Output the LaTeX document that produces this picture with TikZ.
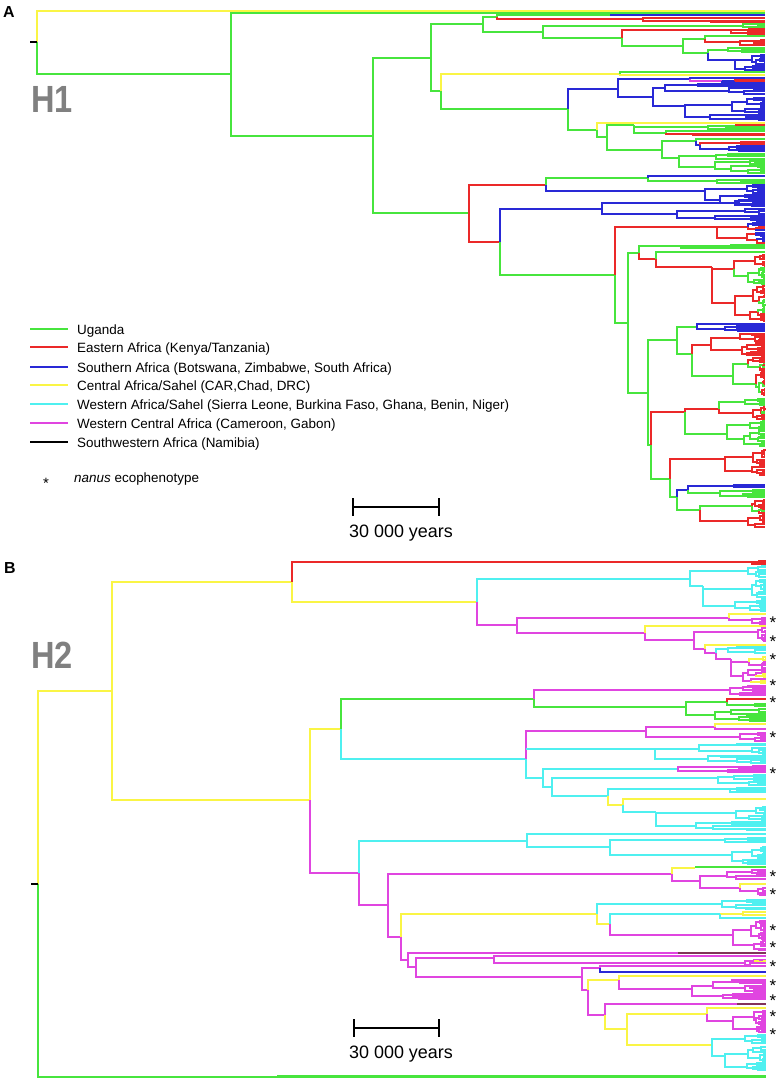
\documentclass[tikz,border=0pt]{standalone}
\usepackage{fontspec}
\setmainfont{Liberation Sans}
\definecolor{ug}{rgb}{0.28,0.90,0.24}
\definecolor{ea}{rgb}{0.92,0.16,0.16}
\definecolor{sa}{rgb}{0.16,0.16,0.84}
\definecolor{ca}{rgb}{0.98,0.96,0.27}
\definecolor{wa}{rgb}{0.31,0.94,0.94}
\definecolor{wc}{rgb}{0.88,0.27,0.88}
\definecolor{dk}{rgb}{0.51,0.20,0.35}
\definecolor{hg}{rgb}{0.50,0.50,0.50}
\definecolor{kk}{rgb}{0,0,0}
% binary node: x, stem y, child1 y, colour1, child1 x, child2 y, colour2, child2 x
\newcommand\ndd[8]{%
 \draw[line width=1.7bp,color=#4] (#1,#2) -- (#1,#3) -- (#5,#3);%
 \draw[line width=1.7bp,color=#7] (#1,#2) -- (#1,#6) -- (#8,#6);}
\newcommand\seg[4]{\draw[line width=1.7bp,color=#1] (#2,#4) -- (#3,#4);}
% random clade: x, ytop, ybot, colour, alt colour, prob, stem y
\newcommand\rclade[7]{%
\begingroup
\pgfmathsetmacro\rcH{#3-#2}%
\ifdim\rcH pt<2.8pt
  \draw[line width=1.7bp,color=#4] (#1,#7) -- (\xend,#7);%
\else
  \pgfmathsetmacro\rcM{#2+\rcH*(0.3+0.4*rnd)}%
  \pgfmathsetmacro\rcCa{round((#2+\rcM)/2)}%
  \pgfmathsetmacro\rcCb{round((\rcM+#3)/2)}%
  \pgfmathsetmacro\rcXa{round(#1+(\xend-#1)*(0.2+0.6*rnd))}%
  \pgfmathsetmacro\rcXb{round(#1+(\xend-#1)*(0.2+0.6*rnd))}%
  \pgfmathsetmacro\rcRa{rnd}%
  \pgfmathsetmacro\rcRb{rnd}%
  \ifdim\rcRa pt<#6pt \edef\rcCola{#5}\def\rcPa{0}\else\edef\rcCola{#4}\def\rcPa{#6}\fi
  \ifdim\rcRb pt<#6pt \edef\rcColb{#5}\def\rcPb{0}\else\edef\rcColb{#4}\def\rcPb{#6}\fi
  \draw[line width=1.7bp,color=\rcCola] (#1,#7) -- (#1,\rcCa) -- (\rcXa,\rcCa);%
  \draw[line width=1.7bp,color=\rcColb] (#1,#7) -- (#1,\rcCb) -- (\rcXb,\rcCb);%
  \edef\rcN{\noexpand\rclade{\rcXa}{#2}{\rcM}{\rcCola}{#5}{\rcPa}{\rcCa}}\rcN
  \edef\rcN{\noexpand\rclade{\rcXb}{\rcM}{#3}{\rcColb}{#5}{\rcPb}{\rcCb}}\rcN
\fi
\endgroup}
\newcommand\legline[2]{\draw[line width=2.4bp,color=#1] (30,#2) -- (68,#2);}
\tikzset{
  lt/.style={anchor=base west, font=\fontsize{13.5}{16}\selectfont, inner sep=0pt, text=kk},
  st/.style={anchor=base, font=\fontsize{15}{17}\selectfont, inner sep=0pt, text=kk},
  tst/.style={anchor=base, font=\fontsize{17}{19}\selectfont, inner sep=0pt, text=kk},
  hl/.style={anchor=base west, font=\fontsize{38}{40}\selectfont\bfseries, text=hg, inner sep=0pt, xscale=0.86},
  pl/.style={anchor=base west, font=\fontsize{16}{18}\selectfont\bfseries, inner sep=0pt, text=kk},
  sc/.style={font=\fontsize{18}{20}\selectfont, inner sep=0pt, text=kk}
}
\begin{document}
\begin{tikzpicture}[x=1bp,y=-1bp]
\useasboundingbox (0,0) rectangle (779,1083);
\pgfmathsetseed{12}
% ================= labels =================
\node[pl] (pa) at (3,17) {A};
\node[pl] (pb) at (4,573) {B};
\node[hl] (h1) at (31,112) {H1};
\node[hl] (h2) at (31,668) {H2};
\node[lt] (l1) at (77,334) {Uganda};
\node[lt] (l2) at (77,352) {Eastern Africa (Kenya/Tanzania)};
\node[lt] (l3) at (77,372) {Southern Africa (Botswana, Zimbabwe, South Africa)};
\node[lt] (l4) at (77,390) {Central Africa/Sahel (CAR,Chad, DRC)};
\node[lt] (l5) at (77,409) {Western Africa/Sahel (Sierra Leone, Burkina Faso, Ghana, Benin, Niger)};
\node[lt] (l6) at (77,428) {Western Central Africa (Cameroon, Gabon)};
\node[lt] (l7) at (77,447) {Southwestern Africa (Namibia)};
\node[st] (lstar) at (46,488) {*};
\node[lt] (l8) at (74,482) {\textit{nanus} ecophenotype};
\node[sc] (sc1) at (401,533) {30 000 years};
\node[sc] (sc2) at (401,1054) {30 000 years};
\foreach \yy [count=\i] in {619,638,656,682,699,734,770,873,891,927,944,963,982,997,1013,1031}
  \node[tst] (star\i) at (773,\yy+9.5) {*};
% legend lines
\legline{ug}{329}
\legline{ea}{347}
\legline{sa}{367}
\legline{ca}{385}
\legline{wa}{404}
\legline{wc}{423}
\legline{kk}{442}
% scale bars
\draw[color=kk,line width=2bp] (353,507) -- (439,507);
\draw[color=kk,line width=1.4bp] (353,498) -- (353,516) (439,498) -- (439,516);
\draw[color=kk,line width=2bp] (354,1028) -- (439,1028);
\draw[color=kk,line width=1.4bp] (354,1019) -- (354,1037) (439,1019) -- (439,1037);
% ================= H1 =================
\def\xend{765}
\ndd{37}{42}{11}{ca}{765}{74}{ug}{231}
\draw[color=kk,line width=1.4bp] (30,42) -- (37,42);
\ndd{231}{74}{13}{ug}{765}{136}{ug}{373}
\ndd{373}{136}{58}{ug}{431}{213}{ug}{469}
\ndd{431}{58}{24}{ug}{483}{91}{ug}{441}
\ndd{483}{24}{17}{ug}{497}{32}{ug}{543}
\ndd{497}{17}{15}{ug}{610}{19}{ea}{643}
\seg{sa}{610}{765}{15}
\rclade{643}{17}{23}{ea}{ea}{0}{19}
\ndd{543}{32}{26}{ug}{743}{38}{ug}{622}
\rclade{743}{23}{29}{ug}{ug}{0}{26}
\ndd{622}{38}{30}{ea}{731}{46}{ug}{683}
\rclade{731}{28}{35}{ea}{ea}{0}{30}
\ndd{683}{46}{39}{ug}{705}{53}{ug}{708}
\ndd{705}{39}{36}{ug}{765}{42}{ea}{740}
\rclade{740}{39}{46}{ea}{ea}{0}{42}
\ndd{708}{53}{50}{ug}{728}{60}{sa}{735}
\rclade{728}{47}{53}{ug}{ug}{0}{50}
\rclade{735}{54}{72}{sa}{sa}{0}{60}
\ndd{441}{91}{74}{ca}{620}{109}{ug}{568}
\ndd{620}{74}{72}{ug}{765}{75}{ca}{765}
\ndd{568}{109}{89}{sa}{618}{130}{ug}{597}
\ndd{618}{89}{79}{sa}{690}{97}{sa}{653}
\ndd{690}{79}{81}{wc}{722}{78}{sa}{765}
\rclade{722}{79}{84}{sa}{ea}{0.3}{81}
\ndd{653}{97}{88}{sa}{665}{106}{sa}{685}
\rclade{665}{83}{95}{sa}{sa}{0}{88}
\rclade{685}{97}{121}{sa}{sa}{0}{106}
\ndd{597}{130}{123}{ca}{765}{137}{ug}{607}
\ndd{607}{137}{125}{ug}{634}{150}{ug}{662}
\rclade{634}{124}{136}{ug}{ea}{0.35}{125}
\ndd{662}{150}{141}{ug}{696}{158}{ug}{679}
\ndd{696}{141}{139}{ug}{765}{145}{sa}{700}
\rclade{700}{141}{152}{ea}{sa}{0.3}{145}
\rclade{679}{153}{174}{ug}{ug}{0}{158}
\ndd{469}{213}{185}{ea}{546}{242}{ea}{500}
\ndd{546}{185}{178}{ug}{648}{191}{sa}{705}
\ndd{648}{178}{176}{sa}{765}{181}{ug}{717}
\rclade{717}{179}{184}{ug}{ug}{0}{181}
\rclade{705}{184}{207}{sa}{sa}{0}{191}
\ndd{500}{242}{209}{sa}{602}{275}{ug}{615}
\ndd{602}{209}{203}{sa}{735}{214}{sa}{677}
\rclade{735}{199}{207}{sa}{sa}{0}{203}
\rclade{677}{208}{222}{sa}{sa}{0}{214}
\ndd{615}{275}{227}{ea}{717}{323}{ug}{628}
\rclade{717}{222}{244}{ea}{sa}{0.25}{227}
\ndd{628}{323}{253}{ug}{639}{393}{ug}{648}
\ndd{639}{253}{246}{ug}{681}{259}{ea}{656}
\rclade{681}{244}{249}{ug}{ea}{0.2}{246}
\ndd{656}{259}{252}{ug}{765}{267}{ea}{712}
\rclade{712}{254}{322}{ea}{ug}{0.08}{267}
\ndd{648}{393}{340}{ug}{677}{445}{ug}{651}
\ndd{677}{340}{327}{ug}{697}{354}{ug}{692}
\rclade{697}{323}{332}{sa}{sa}{0}{327}
\rclade{692}{333}{396}{ug}{ea}{0.3}{354}
\ndd{651}{445}{412}{ea}{685}{479}{ug}{670}
\rclade{685}{398}{447}{ea}{ug}{0.15}{412}
\ndd{670}{479}{459}{ea}{725}{497}{ug}{677}
\rclade{725}{448}{476}{ea}{ea}{0}{459}
\ndd{677}{497}{490}{sa}{688}{510}{ug}{700}
\rclade{688}{484}{498}{sa}{ug}{0.3}{490}
\rclade{700}{499}{528}{ug}{ea}{0.4}{510}
% ================= H2 =================
\def\xend{766}
\ndd{38}{884}{691}{ca}{112}{1077}{ug}{766}
\draw[color=ug,line width=3bp] (277,1076.5) -- (766,1076.5);
\draw[color=kk,line width=1.4bp] (31,884) -- (38,884);
\ndd{112}{691}{582}{ca}{292}{800}{ca}{310}
\ndd{292}{582}{562}{ea}{752}{602}{ca}{477}
\rclade{752}{560}{565}{ea}{ea}{0}{562}
\ndd{477}{602}{579}{wa}{690}{625}{wc}{517}
\ndd{690}{579}{571}{wa}{748}{586}{wa}{703}
\rclade{748}{565}{578}{wa}{wa}{0}{571}
\rclade{703}{579}{612}{wa}{wa}{0}{586}
\ndd{517}{625}{618}{wc}{729}{633}{wc}{645}
\ndd{729}{618}{614}{ca}{766}{620}{wc}{752}
\rclade{752}{617}{625}{wc}{wc}{0}{620}
\ndd{645}{633}{626}{ca}{766}{640}{wc}{694}
\ndd{694}{640}{632}{wc}{758}{649}{wc}{705}
\rclade{758}{627}{642}{wc}{wc}{0}{632}
\ndd{705}{649}{645}{ca}{766}{653}{wc}{716}
\ndd{716}{653}{649}{wa}{728}{659}{wc}{731}
\rclade{728}{646}{654}{wa}{wa}{0}{649}
\rclade{731}{656}{684}{wc}{ca}{0.1}{659}
\ndd{310}{800}{729}{ca}{341}{873}{wc}{359}
\ndd{341}{729}{699}{ug}{534}{759}{wa}{526}
\ndd{534}{699}{690}{wc}{730}{707}{ug}{686}
\rclade{730}{685}{696}{wc}{wc}{0}{690}
\ndd{686}{707}{702}{ug}{727}{715}{ug}{715}
\ndd{727}{702}{699}{ea}{766}{705}{ug}{755}
\rclade{755}{703}{707}{ug}{ug}{0}{705}
\rclade{715}{708}{722}{ug}{ug}{0}{715}
\ndd{526}{759}{731}{wc}{646}{778}{wa}{543}
\seg{wa}{526}{655}{749}
\ndd{646}{731}{727}{wc}{715}{737}{wc}{740}
\ndd{715}{727}{724}{ca}{766}{729}{wc}{766}
\rclade{740}{732}{742}{wc}{wc}{0}{737}
\rclade{655}{743}{764}{wa}{wa}{0}{749}
\ndd{543}{778}{769}{wa}{678}{787}{wa}{552}
\rclade{678}{765}{773}{wc}{wc}{0}{769}
\ndd{552}{787}{778}{wa}{718}{796}{wa}{608}
\rclade{718}{774}{786}{wa}{wa}{0}{778}
\ndd{608}{796}{789}{wa}{730}{805}{ca}{623}
\rclade{730}{787}{793}{wa}{wa}{0}{789}
\ndd{623}{805}{799}{ca}{766}{812}{wa}{656}
\rclade{656}{806}{831}{wa}{wa}{0}{812}
\ndd{359}{873}{841}{wa}{527}{905}{wc}{388}
\ndd{527}{841}{834}{wa}{766}{847}{wa}{610}
\ndd{610}{847}{840}{wa}{725}{855}{wa}{732}
\rclade{725}{837}{843}{wa}{wa}{0}{840}
\rclade{732}{846}{865}{wa}{wa}{0}{855}
\ndd{388}{905}{874}{wc}{672}{937}{wc}{401}
\ndd{672}{874}{868}{ca}{695}{881}{wc}{700}
\seg{ug}{695}{766}{867}
\ndd{700}{881}{876}{wc}{727}{888}{wc}{740}
\rclade{727}{869}{880}{wc}{wc}{0}{876}
\ndd{740}{888}{884}{ca}{766}{891}{wc}{758}
\rclade{758}{887}{896}{wc}{wc}{0}{891}
\ndd{401}{937}{914}{ca}{597}{960}{wc}{408}
\ndd{597}{914}{904}{wa}{722}{924}{ca}{610}
\rclade{722}{899}{910}{wa}{wa}{0}{904}
\ndd{610}{924}{914}{wa}{720}{935}{wc}{733}
\rclade{720}{911}{919}{wa}{ca}{0.2}{914}
\rclade{733}{920}{951}{wc}{wc}{0}{935}
\ndd{408}{960}{953}{wc}{766}{967}{wc}{416}
\seg{dk}{678}{766}{953}
\ndd{416}{967}{958}{wc}{494}{977}{wc}{582}
\ndd{494}{958}{956}{wc}{766}{963}{wc}{745}
\rclade{745}{959}{967}{wc}{ca}{0.2}{963}
\ndd{582}{977}{968}{wc}{600}{990}{wc}{588}
\ndd{600}{968}{966}{wc}{766}{972}{sa}{766}
\ndd{588}{990}{980}{ca}{619}{1015}{wc}{605}
\ndd{619}{980}{976}{ca}{766}{989}{wc}{692}
\rclade{692}{979}{1000}{wc}{wc}{0}{989}
\ndd{605}{1015}{1004}{wc}{766}{1029}{ca}{627}
\seg{dk}{737}{766}{1004}
\ndd{627}{1029}{1014}{ca}{707}{1045}{ca}{712}
\ndd{707}{1014}{1008}{ca}{766}{1021}{wc}{733}
\rclade{733}{1010}{1033}{wc}{wc}{0}{1021}
\ndd{712}{1045}{1039}{wa}{745}{1056}{wa}{725}
\rclade{745}{1034}{1044}{wa}{wa}{0}{1039}
\rclade{725}{1046}{1071}{wa}{wa}{0}{1056}
\end{tikzpicture}
\end{document}
